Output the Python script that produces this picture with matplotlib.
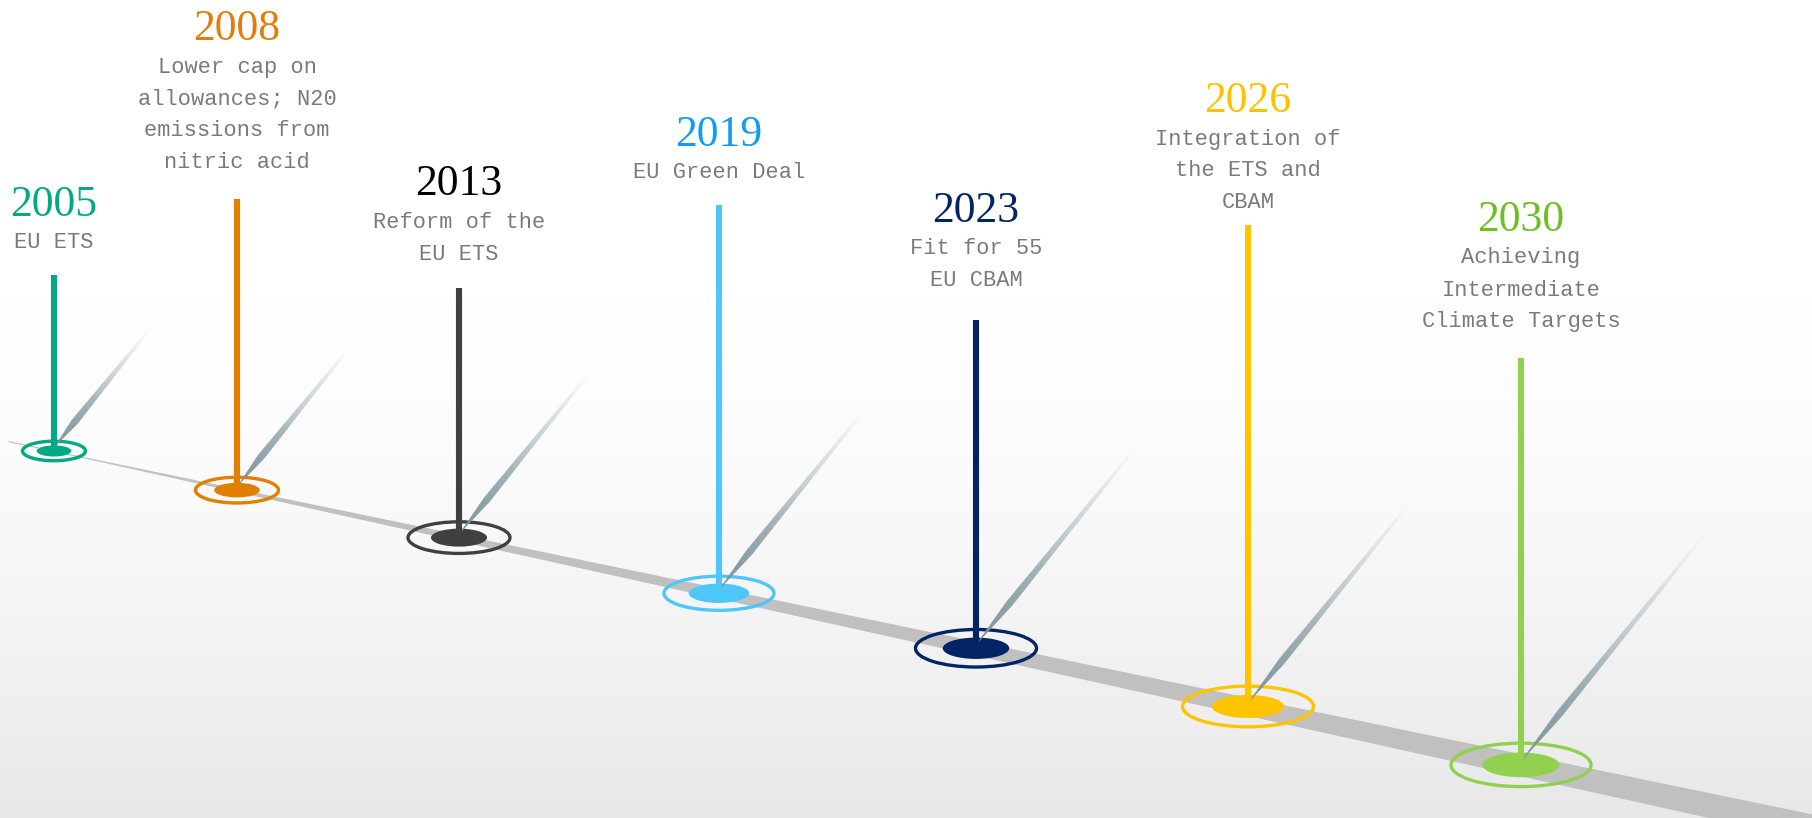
import numpy as np
import matplotlib
matplotlib.use("Agg")
import matplotlib.pyplot as plt
from matplotlib.patches import Ellipse
from matplotlib.collections import PolyCollection
from matplotlib.colors import to_rgb

# ---- timeline content -------------------------------------------------------
years = ["2005", "2008", "2013", "2019", "2023", "2026", "2030"]
descriptions = [
    "EU ETS",
    "Lower cap on\nallowances; N20\nemissions from\nnitric acid",
    "Reform of the\nEU ETS",
    "EU Green Deal",
    "Fit for 55\nEU CBAM",
    "Integration of\nthe ETS and\nCBAM",
    "Achieving\nIntermediate\nClimate Targets",
]
year_colors = ["#02a982", "#e47c0a", "#000000", "#109cf2", "#022366", "#ffc000", "#6cbf1e"]
mark_colors = ["#02a982", "#e37f00", "#404040", "#4fc6f8", "#022366", "#ffc400", "#92d050"]

# ---- layout (pixel space) ---------------------------------------------------
W, H = 1812, 818
anchor_x = [54, 237, 459, 719, 976, 1248, 1521]        # pins along the road
stem_top = [275, 199, 288, 205, 320, 225, 358]
year_y = [205, 29, 184, 135, 211, 101, 220]
ring_w = [63, 83, 102, 110, 121, 131, 140]
needle_len = [150, 175, 205, 228, 250, 254, 290]
road_y0, road_slope = 439.4, 0.214

fig = plt.figure(figsize=(W / 100, H / 100), dpi=100)
ax = fig.add_axes([0, 0, 1, 1])
ax.set_xlim(0, W)
ax.set_ylim(H, 0)
ax.axis("off")


def background_at(y):
    tt = np.clip((np.asarray(y, dtype=float) - 300) / (H - 300), 0, 1)
    return (255 - 23 * tt ** 1.5) / 255.0


# background: white fading into light grey towards the bottom
v = background_at(np.arange(H))
bg = np.repeat(v[:, None], 2, axis=1)
ax.imshow(np.dstack([bg, bg, bg]), extent=(0, W, H, 0), aspect="auto",
          interpolation="bilinear", zorder=0)


def road_center(x):
    return road_y0 + road_slope * np.asarray(x, dtype=float)


# road band widening with perspective
rx = np.linspace(8, W, 400)
half = np.maximum(0.0073 * rx, 0.6)
ax.fill_between(rx, road_center(rx) - half, road_center(rx) + half,
                color="#c0c0c0", lw=0, zorder=1)


def draw_needle(x0, y0, length):
    ang = np.deg2rad(51)
    d = np.array([np.cos(ang), -np.sin(ang)])
    n = np.array([np.sin(ang), np.cos(ang)])
    ts = np.linspace(0, 1, 100)
    wmax = 3.3
    prof = wmax * np.minimum(ts / 0.2, 1.0) * (1 - 0.7 * np.clip((ts - 0.2) / 0.8, 0, 1))
    base = np.array([x0, y0])
    pts = base[None, :] + ts[:, None] * length * d[None, :]
    left = pts + prof[:, None] * n[None, :]
    right = pts - prof[:, None] * n[None, :]
    polys, cols = [], []
    c0 = np.array(to_rgb("#7a8f98"))
    c1 = np.array(to_rgb("#a3b4ba"))
    for i in range(len(ts) - 1):
        polys.append([left[i], left[i + 1], right[i + 1], right[i]])
        tm = 0.5 * (ts[i] + ts[i + 1])
        b = float(background_at(pts[i][1]))
        bgv = np.array([b, b, b])
        if tm < 0.4:
            c = c0 + (c1 - c0) * (tm / 0.4)
        else:
            k = (tm - 0.4) / 0.6
            c = c1 + (bgv - c1) * min(1.0, k ** 0.8)
        cols.append(tuple(c))
    pc = PolyCollection(polys, facecolors=cols, edgecolors=cols, linewidths=0.3, zorder=4)
    ax.add_collection(pc)


for i, yr in enumerate(years):
    x = anchor_x[i]
    yc = float(road_center(x))
    w = ring_w[i]
    col = mark_colors[i]
    # outer ring and inner disc
    ax.add_patch(Ellipse((x, yc), w, w * 0.31, fill=False, ec=col, lw=2.4, zorder=2))
    ax.add_patch(Ellipse((x, yc), w * 0.55, w * 0.55 * 0.32, fc=col, ec="none", zorder=3))
    # diagonal shine
    draw_needle(x + 2, yc - 6, needle_len[i])
    # stem
    ax.plot([x, x], [stem_top[i], yc], color=col, lw=4.4, solid_capstyle="butt", zorder=5)
    # year and description
    ax.text(x, year_y[i], yr, ha="center", va="center", fontsize=31.5,
            family="Liberation Serif", color=year_colors[i], zorder=6)
    for k, line in enumerate(descriptions[i].split("\n")):
        ax.text(x, year_y[i] + 38 + 32 * k, line, ha="center", va="center",
                fontsize=15.8, family="Liberation Mono", color="#7a7a7a", zorder=6)

fig.savefig("out.png", dpi=100)
